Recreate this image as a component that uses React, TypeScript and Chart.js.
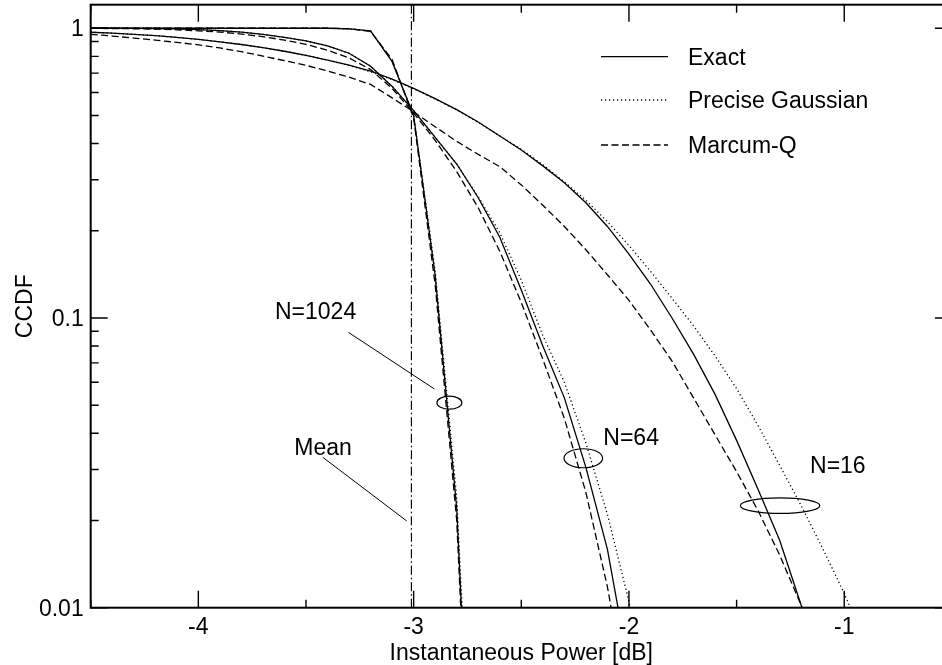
import React, { useEffect, useRef } from "react";
import { Chart, registerables } from "chart.js";

Chart.register(...registerables);

// x grid of the computed curves (dB)
const X = [
  -4.5, -4.4, -4.3, -4.2, -4.1, -4.0, -3.9, -3.8, -3.7, -3.6, -3.5, -3.4, -3.3,
  -3.2, -3.1, -3.0, -2.9, -2.8, -2.7, -2.6, -2.5, -2.4, -2.3, -2.2, -2.1, -2.0,
  -1.9, -1.8, -1.7, -1.6, -1.5, -1.4, -1.3, -1.2, -1.1, -1.0, -0.9,
];

// N = 16
const n16Exact = [
  0.969, 0.962, 0.953, 0.943, 0.93, 0.915, 0.898, 0.879, 0.857, 0.833, 0.806,
  0.777, 0.746, 0.712, 0.667, 0.62, 0.572, 0.524, 0.475, 0.425, 0.38, 0.335,
  0.293, 0.25, 0.207, 0.166, 0.131, 0.1, 0.075, 0.0545, 0.0378, 0.0256, 0.0171,
  0.0102, 0.0055, null, null,
];
const n16Gauss = [
  0.969, 0.962, 0.953, 0.943, 0.93, 0.915, 0.898, 0.879, 0.857, 0.833, 0.806,
  0.777, 0.744, 0.708, 0.665, 0.618, 0.57, 0.522, 0.473, 0.425, 0.382, 0.338,
  0.295, 0.255, 0.215, 0.178, 0.145, 0.117, 0.094, 0.074, 0.057, 0.0425, 0.031,
  0.0225, 0.016, 0.0112, 0.0075,
];
const n16Marcum = [
  0.953, 0.94, 0.925, 0.91, 0.894, 0.877, 0.855, 0.83, 0.802, 0.773, 0.745,
  0.712, 0.678, 0.64, 0.575, 0.515, 0.457, 0.407, 0.367, 0.333, 0.288, 0.245,
  0.207, 0.172, 0.141, 0.115, 0.091, 0.071, 0.053, 0.0395, 0.0295, 0.0216,
  0.0152, 0.0102, 0.0063, null, null,
];

// N = 64
const n64Exact = [
  1.0, 1.0, 0.999, 0.998, 0.995, 0.99, 0.982, 0.97, 0.953, 0.93, 0.905, 0.87,
  0.82, 0.74, 0.63, 0.52, 0.42, 0.34, 0.26, 0.19, 0.125, 0.08, 0.053, 0.0305,
  0.0159, 0.0062, null, null, null, null, null, null, null, null, null, null, null,
];
const n64Gauss = [
  1.0, 1.0, 0.999, 0.998, 0.995, 0.99, 0.982, 0.97, 0.953, 0.93, 0.905, 0.87,
  0.82, 0.74, 0.63, 0.52, 0.42, 0.34, 0.262, 0.197, 0.135, 0.087, 0.06, 0.037,
  0.021, 0.0105, 0.0045, null, null, null, null, null, null, null, null, null, null,
];
const n64Marcum = [
  0.999, 0.998, 0.996, 0.993, 0.988, 0.98, 0.97, 0.955, 0.935, 0.91, 0.88, 0.84,
  0.79, 0.72, 0.62, 0.51, 0.41, 0.32, 0.24, 0.17, 0.113, 0.072, 0.045, 0.025,
  0.0118, 0.0045, null, null, null, null, null, null, null, null, null, null, null,
];

// N = 1024
const n1024Exact = [
  1, 1, 1, 1, 1, 1, 1, 1, 1, 1, 1, 1, 0.995, 0.979, 0.767, 0.5, 0.14, 0.022,
  0.0006, null, null, null, null, null, null, null, null, null, null, null, null,
  null, null, null, null, null, null,
];
const n1024Gauss = [
  1, 1, 1, 1, 1, 1, 1, 1, 1, 1, 1, 1, 0.996, 0.978, 0.77, 0.5, 0.145, 0.024,
  0.0008, null, null, null, null, null, null, null, null, null, null, null, null,
  null, null, null, null, null, null,
];
const n1024Marcum = [
  1, 1, 1, 1, 1, 1, 1, 1, 1, 1, 1, 1, 0.997, 0.975, 0.78, 0.49, 0.13, 0.02,
  0.0005, null, null, null, null, null, null, null, null, null, null, null, null,
  null, null, null, null, null, null,
];

const MEAN_DB = -3.0103;
const X_MIN = -4.5;
const X_MAX = -0.5;
const Y_MIN = 0.01;
const Y_MAX = 1.206;

const xTickLabels = ["-4", "-3", "-2", "-1"];
const xTickValues = [-4, -3, -2, -1];
const yTickLabels = ["1", "0.1", "0.01"];
const yTickValues = [1, 0.1, 0.01];
const legendLabels = ["Exact", "Precise Gaussian", "Marcum-Q"];

const FONT = '23px "Liberation Sans", Arial, Helvetica, sans-serif';
const SOLID: number[] = [];
const DOTTED = [1.2, 2.8];
const DASHED = [7, 3.5];
const DASHDOT = [9, 3, 1.5, 3];

function series(vals: (number | null)[]) {
  const pts: { x: number; y: number }[] = [];
  X.forEach((x, i) => {
    const v = vals[i];
    if (v !== null && v !== undefined) pts.push({ x, y: v });
  });
  return pts;
}

function ds(vals: (number | null)[], dash: number[]) {
  return {
    data: series(vals),
    borderColor: "#000",
    borderWidth: 1.3,
    borderDash: dash,
    pointRadius: 0,
    tension: 0,
    fill: false,
  };
}

const overlay = {
  id: "overlay",
  afterDraw(chart: any) {
    const ctx = chart.ctx as CanvasRenderingContext2D;
    const xs = chart.scales.x;
    const ys = chart.scales.y;
    const L = xs.getPixelForValue(X_MIN);
    const R = xs.getPixelForValue(X_MAX);
    const T = ys.getPixelForValue(Y_MAX);
    const B = ys.getPixelForValue(Y_MIN);
    ctx.save();
    ctx.strokeStyle = "#000";
    ctx.fillStyle = "#000";
    ctx.setLineDash([]);

    // ticks
    ctx.lineWidth = 1.4;
    ctx.beginPath();
    for (let v = X_MIN; v <= X_MAX + 1e-9; v += 0.5) {
      const px = xs.getPixelForValue(v);
      const len = Math.abs(v - Math.round(v)) < 1e-6 ? 17 : 8;
      ctx.moveTo(px, B);
      ctx.lineTo(px, B - len);
      ctx.moveTo(px, T);
      ctx.lineTo(px, T + len);
    }
    for (let d = -2; d <= 0; d++) {
      for (let k = 1; k <= 9; k++) {
        const v = k * Math.pow(10, d);
        if (v > Y_MAX) continue;
        const py = ys.getPixelForValue(v);
        const len = k === 1 ? 17 : 8;
        ctx.moveTo(L, py);
        ctx.lineTo(L + len, py);
        ctx.moveTo(R, py);
        ctx.lineTo(R - len, py);
      }
    }
    ctx.stroke();

    // frame
    ctx.lineWidth = 2;
    ctx.strokeRect(L, T, R - L, B - T);

    // tick labels
    ctx.font = FONT;
    ctx.textBaseline = "alphabetic";
    ctx.textAlign = "center";
    xTickValues.forEach((v, i) => {
      ctx.fillText(xTickLabels[i], xs.getPixelForValue(v), 633.5);
    });
    ctx.textAlign = "right";
    yTickValues.forEach((v, i) => {
      ctx.fillText(yTickLabels[i], L - 7, ys.getPixelForValue(v) + 8.2);
    });

    // axis titles
    ctx.textAlign = "center";
    ctx.fillText("Instantaneous Power [dB]", (L + R) / 2, 660);
    ctx.save();
    ctx.translate(31.7, (T + B) / 2);
    ctx.rotate(-Math.PI / 2);
    ctx.fillText("CCDF", 0, 0);
    ctx.restore();

    // legend
    const dashes = [SOLID, DOTTED, DASHED];
    const rows = [56.7, 100, 145];
    ctx.textAlign = "left";
    legendLabels.forEach((lab, i) => {
      ctx.setLineDash(dashes[i]);
      ctx.lineWidth = 1.3;
      ctx.beginPath();
      ctx.moveTo(601, rows[i]);
      ctx.lineTo(668, rows[i]);
      ctx.stroke();
      ctx.setLineDash([]);
      ctx.fillText(lab, 688, rows[i] + 8.3);
    });

    // annotations (positions in data units)
    const P = (x: number, y: number) => [xs.getPixelForValue(x), ys.getPixelForValue(y)];
    const text = (s: string, x: number, y: number) => {
      const [px, py] = P(x, y);
      ctx.fillText(s, px, py);
    };
    const line = (x1: number, y1: number, x2: number, y2: number) => {
      const [a, b] = P(x1, y1);
      const [c, d] = P(x2, y2);
      ctx.beginPath();
      ctx.moveTo(a, b);
      ctx.lineTo(c, d);
      ctx.stroke();
    };
    const ellipse = (x: number, y: number, rx: number, ry: number) => {
      const [px, py] = P(x, y);
      ctx.beginPath();
      ctx.ellipse(px, py, rx, ry, 0, 0, Math.PI * 2);
      ctx.stroke();
    };
    text("N=1024", -3.644, 0.0992);
    text("Mean", -3.554, 0.03366);
    text("N=64", -2.119, 0.03643);
    text("N=16", -1.159, 0.02917);
    ctx.lineWidth = 1;
    line(-3.303, 0.0892, -2.904, 0.0569);
    line(-3.422, 0.03305, -3.032, 0.01992);
    ctx.lineWidth = 1.2;
    ellipse(-2.834, 0.051, 12.5, 6.5);
    ellipse(-2.212, 0.0328, 19.3, 9.5);
    ellipse(-1.298, 0.0225, 39.7, 7.8);

    ctx.restore();
  },
};

export default function App() {
  const ref = useRef<HTMLCanvasElement>(null);

  useEffect(() => {
    const canvas = ref.current;
    if (!canvas) return;
    const meanLine = {
      data: [
        { x: MEAN_DB, y: Y_MIN },
        { x: MEAN_DB, y: Y_MAX },
      ],
      borderColor: "#000",
      borderWidth: 1.2,
      borderDash: DASHDOT,
      pointRadius: 0,
      fill: false,
    };
    const chart = new Chart(canvas, {
      type: "line",
      data: {
        datasets: [
          ds(n16Exact, SOLID),
          ds(n16Gauss, DOTTED),
          ds(n16Marcum, DASHED),
          ds(n64Exact, SOLID),
          ds(n64Gauss, DOTTED),
          ds(n64Marcum, DASHED),
          ds(n1024Exact, SOLID),
          ds(n1024Gauss, DOTTED),
          ds(n1024Marcum, DASHED),
          meanLine,
        ] as any,
      },
      options: {
        animation: false,
        responsive: false,
        events: [],
        layout: { padding: { left: 90.7, top: 4.7, right: 1.1, bottom: 57.3 } },
        plugins: { legend: { display: false }, tooltip: { enabled: false } },
        scales: {
          x: { type: "linear", min: X_MIN, max: X_MAX, display: false },
          y: { type: "logarithmic", min: Y_MIN, max: Y_MAX, display: false },
        },
      },
      plugins: [overlay],
    });
    return () => chart.destroy();
  }, []);

  return (
    <div
      style={{
        position: "fixed",
        left: 0,
        top: 0,
        width: 942,
        height: 665,
        overflow: "hidden",
        background: "#fff",
      }}
    >
      <canvas ref={ref} width={953} height={665} style={{ display: "block" }} />
    </div>
  );
}
